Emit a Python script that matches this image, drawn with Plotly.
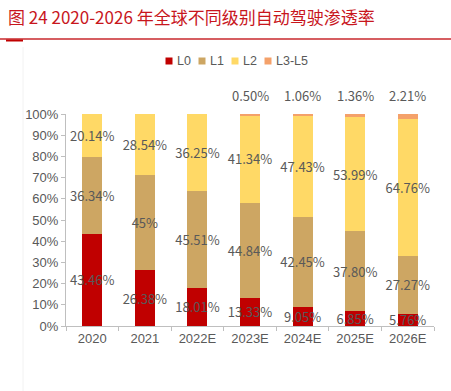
import plotly.graph_objects as go

categories = ["2020", "2021", "2022E", "2023E", "2024E", "2025E", "2026E"]
l0 = [43.46, 26.38, 18.01, 13.33, 9.05, 6.85, 5.76]
l1 = [36.34, 45.0, 45.51, 44.84, 42.45, 37.80, 27.27]
l2 = [20.14, 28.54, 36.25, 41.34, 47.43, 53.99, 64.76]
l345 = [0, 0, 0, 0.50, 1.06, 1.36, 2.21]
l0_text = ["43.46%", "26.38%", "18.01%", "13.33%", "9.05%", "6.85%", "5.76%"]
l1_text = ["36.34%", "45%", "45.51%", "44.84%", "42.45%", "37.80%", "27.27%"]
l2_text = ["20.14%", "28.54%", "36.25%", "41.34%", "47.43%", "53.99%", "64.76%"]
l345_text = ["", "", "", "0.50%", "1.06%", "1.36%", "2.21%"]

names = ["L0", "L1", "L2", "L3-L5"]
colors = ["#C00000", "#CDA663", "#FFD966", "#F4A16A"]
cjk = "Noto Sans CJK SC, Noto Sans, sans-serif"
sans = "Liberation Sans, Arial, sans-serif"
gray = "#595959"

W, H = 451, 391
ML, MR, MT, MB = 66, 17, 114, 65
PW, PH = W - ML - MR, H - MT - MB


def px_x(px):
    return (px - ML) / PW


def px_y(py):
    return (H - MB - py) / PH


fig = go.Figure()
for vals, txt, name, col in zip([l0, l1, l2, l345], [l0_text, l1_text, l2_text, l345_text], names, colors):
    show_inside = name != "L3-L5"
    fig.add_trace(go.Bar(
        x=categories, y=[v / 100 for v in vals], name=name,
        marker=dict(color=col, line=dict(width=0)),
        text=txt if show_inside else None,
        textposition="inside" if show_inside else "none",
        insidetextanchor="middle", textangle=0, constraintext="none",
        textfont=dict(size=13, color=gray, family=cjk),
        hoverinfo="skip", showlegend=False,
    ))

annotations = []
# labels for the small L3-L5 segment, above each stack (y axis range is 0..1, so paper y == value)
for cat, a, b, c, d, t in zip(categories, l0, l1, l2, l345, l345_text):
    if t:
        annotations.append(dict(x=cat, xref="x", y=(a + b + c + d) / 100, yref="paper",
                                text=t, showarrow=False, yanchor="bottom", yshift=7,
                                font=dict(size=13, color=gray, family=cjk)))

# custom compact legend
shapes = []
leg_x0, leg_step, leg_y, sq = 169, 33, 61, 7
for i, (name, col) in enumerate(zip(names, colors)):
    cx = leg_x0 + leg_step * i
    shapes.append(dict(type="rect", xref="paper", yref="paper",
                       x0=px_x(cx - sq / 2), x1=px_x(cx + sq / 2),
                       y0=px_y(leg_y + sq / 2), y1=px_y(leg_y - sq / 2),
                       fillcolor=col, line=dict(width=0)))
    annotations.append(dict(x=px_x(cx + sq / 2 + 2), y=px_y(leg_y), xref="paper", yref="paper",
                            text=name, showarrow=False, xanchor="left", yanchor="middle",
                            font=dict(size=12.5, color=gray, family=sans)))

shapes += [
    dict(type="line", xref="paper", yref="paper", x0=px_x(0), x1=px_x(451), y0=px_y(39), y1=px_y(39),
         line=dict(color="#C8282D", width=1.5)),
    dict(type="line", xref="paper", yref="paper", x0=px_x(6), x1=px_x(23), y0=px_y(40.5), y1=px_y(40.5),
         line=dict(color="#C00000", width=2)),
    dict(type="line", xref="paper", yref="paper", x0=px_x(23), x1=px_x(23), y0=px_y(47), y1=px_y(391),
         line=dict(color="#F2F2F2", width=1)),
]

fig.update_layout(
    barmode="stack", bargap=0.62,
    width=W, height=H,
    margin=dict(l=ML, r=MR, t=MT, b=MB, autoexpand=False),
    paper_bgcolor="white", plot_bgcolor="white",
    font=dict(family=sans, color=gray, size=12),
    showlegend=False,
    title=dict(text="图 24 2020-2026 年全球不同级别自动驾驶渗透率", xref="container", yref="container",
               x=8 / W, y=1 - 18 / H, xanchor="left", yanchor="middle",
               font=dict(size=17, color="#C8161D", family=cjk)),
    xaxis=dict(type="category", showline=True, linecolor="#BFBFBF", linewidth=1,
               ticks="outside", tickson="boundaries", ticklen=4, tickcolor="#BFBFBF",
               tickfont=dict(size=13, color=gray), showgrid=False, automargin=False),
    yaxis=dict(range=[0, 1], dtick=0.1, tickformat=".0%", showline=True,
               linecolor="#BFBFBF", linewidth=1, ticks="outside", ticklen=4,
               tickcolor="#BFBFBF", tickfont=dict(size=13, color=gray),
               showgrid=False, zeroline=False, automargin=False),
    shapes=shapes,
    annotations=annotations,
)

fig.write_html("out.html", config={"displayModeBar": False},
               post_script="document.body.style.margin='0';")
